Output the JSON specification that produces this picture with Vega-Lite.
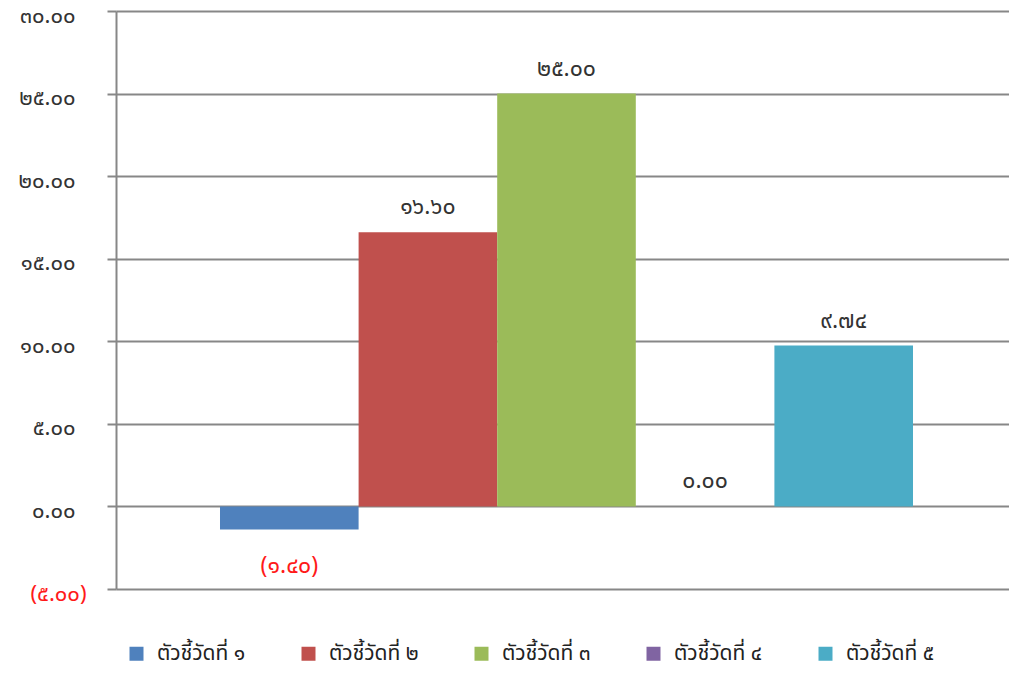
{
  "$schema": "https://vega.github.io/schema/vega-lite/v6.json",
  "autosize": {"type": "none"},
  "padding": {"left": 116, "top": 11, "right": 0, "bottom": 85},
  "width": 893,
  "height": 578,
  "background": "white",
  "config": {"view": {"stroke": null}, "font": "Kinnari, Norasi, Noto Sans Thai, Noto Sans"},
  "data": {
    "values": [
      {"series": "ตัวชี้วัดที่ ๑", "order": 1, "value": -1.4, "label": "(๑.๔๐)"},
      {"series": "ตัวชี้วัดที่ ๒", "order": 2, "value": 16.6, "label": "๑๖.๖๐"},
      {"series": "ตัวชี้วัดที่ ๓", "order": 3, "value": 25.0, "label": "๒๕.๐๐"},
      {"series": "ตัวชี้วัดที่ ๔", "order": 4, "value": 0.0, "label": "๐.๐๐"},
      {"series": "ตัวชี้วัดที่ ๕", "order": 5, "value": 9.74, "label": "๙.๗๔"}
    ]
  },
  "encoding": {
    "x": {
      "field": "series", "type": "nominal", "sort": {"field": "order"},
      "scale": {"paddingInner": 0, "paddingOuter": 0.7215, "align": 0.52},
      "axis": null
    },
    "y": {
      "field": "value", "type": "quantitative",
      "scale": {"domain": [-5, 30], "nice": false, "zero": false},
      "axis": {
        "title": null,
        "values": [-5, 0, 5, 10, 15, 20, 25, 30],
        "grid": true,
        "gridColor": "#878787",
        "gridWidth": 2,
        "domainColor": "#878787",
        "domainWidth": 2,
        "tickColor": "#878787",
        "tickWidth": 2,
        "tickSize": 9,
        "labelPadding": {"condition": {"test": "datum.value < 0", "value": 21}, "value": 32},
        "labelOffset": 4,
        "labelFontSize": 22,
        "labelFontWeight": "normal",
        "labelColor": {"condition": {"test": "datum.value < 0", "value": "#ff1a1a"}, "value": "#333333"},
        "labelExpr": "(datum.value < 0 ? '(' : '') + replace(replace(replace(replace(replace(replace(replace(replace(replace(replace(format(abs(datum.value),'.2f'),regexp('0','g'),'๐'),regexp('1','g'),'๑'),regexp('2','g'),'๒'),regexp('3','g'),'๓'),regexp('4','g'),'๔'),regexp('5','g'),'๕'),regexp('6','g'),'๖'),regexp('7','g'),'๗'),regexp('8','g'),'๘'),regexp('9','g'),'๙') + (datum.value < 0 ? ')' : '')"
      }
    }
  },
  "layer": [
    {
      "mark": {"type": "bar"},
      "encoding": {
        "color": {
          "field": "series", "type": "nominal", "sort": {"field": "order"},
          "scale": {
            "domain": ["ตัวชี้วัดที่ ๑", "ตัวชี้วัดที่ ๒", "ตัวชี้วัดที่ ๓", "ตัวชี้วัดที่ ๔", "ตัวชี้วัดที่ ๕"],
            "range": ["#4F81BD", "#C0504D", "#9BBB59", "#8064A2", "#4BACC6"]
          },
          "legend": {
            "title": null,
            "orient": "none",
            "legendX": 10,
            "legendY": 632,
            "direction": "horizontal",
            "columns": 5,
            "symbolType": "square",
            "symbolSize": 196,
            "symbolStrokeWidth": 0,
            "symbolOpacity": 1,
            "labelFontSize": 21,
            "labelColor": "#222222",
            "labelOffset": 10,
            "columnPadding": 52
          }
        }
      }
    },
    {
      "transform": [{"filter": "datum.value >= 0"}],
      "mark": {"type": "text", "dy": -25, "fontSize": 23, "color": "#333333", "baseline": "middle"},
      "encoding": {"text": {"field": "label"}}
    },
    {
      "transform": [{"filter": "datum.value < 0"}],
      "mark": {"type": "text", "dy": 36, "fontSize": 23, "color": "#ff1a1a", "baseline": "middle"},
      "encoding": {"text": {"field": "label"}}
    }
  ]
}
